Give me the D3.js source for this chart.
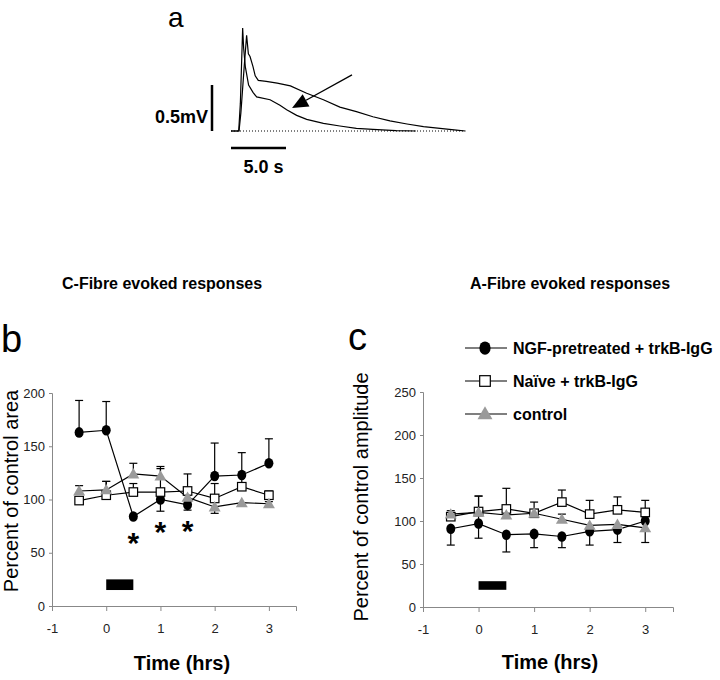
<!DOCTYPE html>
<html><head><meta charset="utf-8">
<script src="https://cdn.jsdelivr.net/npm/d3@7"></script>
<style>body{margin:0;background:#fff}svg{display:block}text{font-family:"Liberation Sans",Arial,sans-serif}</style>
</head><body>
<script>
// ---------- Panel a: trace data (time s, mV) ----------
const traceUpperT = [0, 0.73, 0.9, 1.2, 1.42, 1.58, 1.73, 2.0, 2.2, 2.48, 3.2, 4.2, 5.4, 6.88, 8.4, 9.9, 11.4, 12.9, 14.45, 16.0, 17.5, 19.0, 20.5, 21.3];
const traceUpperV = [0, 0, 0.2, 0.7, 1.04, 0.84, 0.81, 0.7, 0.6, 0.55, 0.54, 0.52, 0.49, 0.41, 0.34, 0.26, 0.21, 0.155, 0.11, 0.076, 0.047, 0.029, 0.01, 0];
const traceLowerT = [0, 0.7, 0.85, 1.06, 1.15, 1.3, 1.6, 2.0, 2.33, 3.55, 4.45, 5.06, 5.97, 6.88, 8.4, 9.9, 11.4, 12.9, 15.0, 16.8];
const traceLowerV = [0, 0, 0.3, 1.12, 0.9, 0.7, 0.5, 0.42, 0.37, 0.34, 0.28, 0.23, 0.17, 0.127, 0.083, 0.054, 0.029, 0.018, 0.004, 0];
const baselineT = [0, 21.3];
const arrowFrom = [11.0, 0.61];
const arrowTo = [5.55, 0.25];
const scaleBarV = 0.5;   // mV
const scaleBarT = 5.0;   // s

// ---------- Panels b & c ----------
const times = [-0.5, 0, 0.5, 1, 1.5, 2, 2.5, 3];
const seriesNames = ["NGF-pretreated + trkB-IgG", "Naïve + trkB-IgG", "control"];

// C-fibre (panel b)
const cNGF = [163, 165, 84, 100, 95, 122, 123, 134];
const cNGFUp = [30, 27, 0, 0, 0, 31, 21, 23];
const cNGFDown = [0, 0, 0, 11, 5, 0, 0, 0];
const cNaive = [99, 104, 107, 107, 108, 101, 112, 104];
const cNaiveUp = [0, 13, 8, 22, 16, 14, 11, 4];
const cNaiveDown = [0, 0, 0, 0, 0, 0, 0, 6];
const cCtrl = [108, 109, 124, 122, 102, 93, 97, 96];
const cCtrlUp = [5, 8, 10, 9, 0, 0, 0, 0];
const cCtrlDown = [0, 0, 0, 0, 0, 6, 0, 0];
const cStars = [[0.5, 65], [1, 75], [1.5, 76]];

// A-fibre (panel c)
const aNGF = [91, 97, 84, 85, 82, 88, 90, 100];
const aNGFUp = [0, 32, 0, 0, 0, 0, 0, 0];
const aNGFDown = [19, 17, 20, 16, 13, 16, 15, 0];
const aNaive = [105, 111, 114, 109, 122, 108, 113, 110];
const aNaiveUp = [7, 18, 24, 13, 14, 16, 15, 14];
const aNaiveDown = [0, 0, 0, 0, 0, 0, 0, 0];
const aCtrl = [108, 110, 107, 109, 102, 95, 96, 92];
const aCtrlUp = [0, 0, 0, 0, 6, 0, 0, 0];
const aCtrlDown = [0, 0, 0, 0, 0, 0, 0, 17];

const xTicks = [-1, 0, 1, 2, 3];
const cYTicks = [0, 50, 100, 150, 200];
const aYTicks = [0, 50, 100, 150, 200, 250];
const treatmentX = [0, 0.5];
const cTreatY = [15, 25];
const aTreatY = [20, 30];

const FONT = '"Liberation Sans", Arial, sans-serif';
const svg = d3.select("body").append("svg").attr("width", 720).attr("height", 680);
svg.append("rect").attr("width", 720).attr("height", 680).attr("fill", "#fff");

// ---------- Panel a ----------
(function () {
  const x = d3.scaleLinear().domain([0, 21.5]).range([231, 231 + 21.5 * 11]);
  const y = d3.scaleLinear().domain([0, 0.5]).range([131, 85]);
  const g = svg.append("g");
  g.append("text").attr("x", 168).attr("y", 27).attr("font-size", 28).text("a");
  const line = d3.line().x(d => x(d[0])).y(d => y(d[1]));
  g.append("path").attr("d", line(baselineT.map(t => [t, 0])))
    .attr("stroke", "#000").attr("stroke-width", 1).attr("stroke-dasharray", "1,2").attr("fill", "none");
  g.append("path").attr("d", line(traceUpperT.map((t, i) => [t, traceUpperV[i]])))
    .attr("stroke", "#000").attr("stroke-width", 1.2).attr("fill", "none");
  g.append("path").attr("d", line(traceLowerT.map((t, i) => [t, traceLowerV[i]])))
    .attr("stroke", "#000").attr("stroke-width", 1.2).attr("fill", "none");
  // arrow
  const x1 = x(arrowFrom[0]), y1 = y(arrowFrom[1]), x2 = x(arrowTo[0]), y2 = y(arrowTo[1]);
  const ang = Math.atan2(y2 - y1, x2 - x1), L = 16, W = 7;
  const bx = x2 - L * Math.cos(ang), by = y2 - L * Math.sin(ang);
  g.append("line").attr("x1", x1).attr("y1", y1).attr("x2", bx).attr("y2", by).attr("stroke", "#000").attr("stroke-width", 1.3);
  g.append("path").attr("d", `M${x2},${y2}L${bx + W * Math.sin(ang)},${by - W * Math.cos(ang)}L${bx - W * Math.sin(ang)},${by + W * Math.cos(ang)}Z`).attr("fill", "#000");
  // scale bars
  g.append("line").attr("x1", 212).attr("x2", 212).attr("y1", y(0)).attr("y2", y(scaleBarV)).attr("stroke", "#000").attr("stroke-width", 2.5);
  g.append("text").attr("x", 208).attr("y", 123).attr("text-anchor", "end").attr("font-size", 18).attr("font-weight", "bold").text(scaleBarV + "mV");
  g.append("line").attr("x1", x(0)).attr("x2", x(scaleBarT)).attr("y1", 148).attr("y2", 148).attr("stroke", "#000").attr("stroke-width", 2.5);
  g.append("text").attr("x", (x(0) + x(scaleBarT)) / 2 + 5).attr("y", 173).attr("text-anchor", "middle").attr("font-size", 18).attr("font-weight", "bold").text(scaleBarT.toFixed(1) + " s");
})();

// ---------- Panels b/c ----------
function drawMarker(g, type, cx, cy, big) {
  const k = big ? 1.25 : 1;
  if (type === 0) {
    g.append("ellipse").attr("cx", cx).attr("cy", cy).attr("rx", 4.5 * k).attr("ry", 5.3 * k).attr("fill", "#000");
  } else if (type === 1) {
    const s = 8.5 * k;
    g.append("rect").attr("x", cx - s / 2).attr("y", cy - s / 2).attr("width", s).attr("height", s)
      .attr("fill", "#fff").attr("stroke", "#000").attr("stroke-width", 1.2);
  } else {
    g.append("path").attr("transform", `translate(${cx},${cy + 1})`)
      .attr("d", d3.symbol(d3.symbolTriangle, 62 * k * k)()).attr("fill", "#9a9a9a");
  }
}

function panel(opt) {
  const g = svg.append("g");
  const x = d3.scaleLinear().domain([-1, 3.5]).range(opt.xr);
  const y = d3.scaleLinear().domain(opt.yd).range(opt.yr);
  const fmt = d => String(d);
  const ya = g.append("g").attr("transform", `translate(${opt.xr[0]},0)`)
    .call(d3.axisLeft(y).tickValues(opt.yTicks).tickFormat(fmt).tickSize(3).tickPadding(4));
  const xa = g.append("g").attr("transform", `translate(0,${opt.yr[0]})`)
    .call(d3.axisBottom(x).tickValues(xTicks).tickFormat(fmt).tickSize(5).tickPadding(13));
  [ya, xa].forEach(a => {
    a.select(".domain").attr("stroke", "#888").attr("stroke-width", 1);
    a.selectAll(".tick line").attr("stroke", "#888");
    a.selectAll("text").attr("font-family", FONT).attr("font-size", 13).attr("fill", "#222");
  });
  g.append("rect").attr("x", x(treatmentX[0])).attr("width", x(treatmentX[1]) - x(treatmentX[0]))
    .attr("y", y(opt.treatY[1])).attr("height", y(opt.treatY[0]) - y(opt.treatY[1])).attr("fill", "#000");
  const series = opt.series;
  series.forEach(s => {
    times.forEach((t, i) => {
      const cx = x(t);
      [[s.up[i], 1], [s.down[i], -1]].forEach(([e, dir]) => {
        if (!e) return;
        const yv = y(s.v[i] + dir * e);
        g.append("line").attr("x1", cx).attr("x2", cx).attr("y1", y(s.v[i])).attr("y2", yv).attr("stroke", "#000").attr("stroke-width", 1.2);
        g.append("line").attr("x1", cx - 4).attr("x2", cx + 4).attr("y1", yv).attr("y2", yv).attr("stroke", "#000").attr("stroke-width", 1.2);
      });
    });
  });
  const line = d3.line().x(d => x(d[0])).y(d => y(d[1]));
  series.forEach(s => {
    g.append("path").attr("d", line(times.map((t, i) => [t, s.v[i]]))).attr("fill", "none").attr("stroke", "#000").attr("stroke-width", 1.2);
  });
  series.forEach(s => times.forEach((t, i) => drawMarker(g, s.type, x(t), y(s.v[i]))));
  (opt.stars || []).forEach(st => {
    g.append("text").attr("x", x(st[0])).attr("y", y(st[1]) + 16).attr("text-anchor", "middle")
      .attr("font-size", 30).attr("font-weight", "bold").text("*");
  });
  g.append("text").attr("x", opt.title[0]).attr("y", opt.title[1]).attr("font-size", 16).attr("font-weight", "bold").text(opt.titleText);
  g.append("text").attr("x", opt.letter[0]).attr("y", opt.letter[1]).attr("font-size", 38).text(opt.letterText);
  g.append("text").attr("transform", `translate(${opt.ylab[0]},${opt.ylab[1]}) rotate(-90)`).attr("text-anchor", "middle")
    .attr("font-size", opt.ylabSize).text(opt.ylabText);
  g.append("text").attr("x", opt.xlab[0]).attr("y", opt.xlab[1]).attr("text-anchor", "middle").attr("font-size", 20).attr("font-weight", "bold").text("Time (hrs)");
}

panel({
  xr: [52, 296], yd: [0, 200], yr: [606, 393], yTicks: cYTicks, treatY: cTreatY,
  series: [
    { type: 0, v: cNGF, up: cNGFUp, down: cNGFDown },
    { type: 1, v: cNaive, up: cNaiveUp, down: cNaiveDown },
    { type: 2, v: cCtrl, up: cCtrlUp, down: cCtrlDown }
  ],
  stars: cStars,
  title: [62, 289], titleText: "C-Fibre evoked responses",
  letter: [1, 352], letterText: "b",
  ylab: [18, 491], ylabSize: 20, ylabText: "Percent of control area",
  xlab: [182, 670]
});

panel({
  xr: [423, 673], yd: [0, 250], yr: [607, 392], yTicks: aYTicks, treatY: aTreatY,
  series: [
    { type: 0, v: aNGF, up: aNGFUp, down: aNGFDown },
    { type: 1, v: aNaive, up: aNaiveUp, down: aNaiveDown },
    { type: 2, v: aCtrl, up: aCtrlUp, down: aCtrlDown }
  ],
  title: [470, 289], titleText: "A-Fibre evoked responses",
  letter: [348, 350], letterText: "c",
  ylab: [368, 497], ylabSize: 20, ylabText: "Percent of control amplitude",
  xlab: [550, 669]
});

const legendY = [348, 381, 414];
seriesNames.forEach((name, i) => {
  const g = svg.append("g");
  g.append("line").attr("x1", 465).attr("x2", 507).attr("y1", legendY[i]).attr("y2", legendY[i]).attr("stroke", "#000").attr("stroke-width", 1.2);
  drawMarker(g, i, 485, legendY[i], true);
  g.append("text").attr("x", 513).attr("y", legendY[i] + 6).attr("font-size", 16).attr("font-weight", "bold").text(name);
});
</script>
</body></html>
